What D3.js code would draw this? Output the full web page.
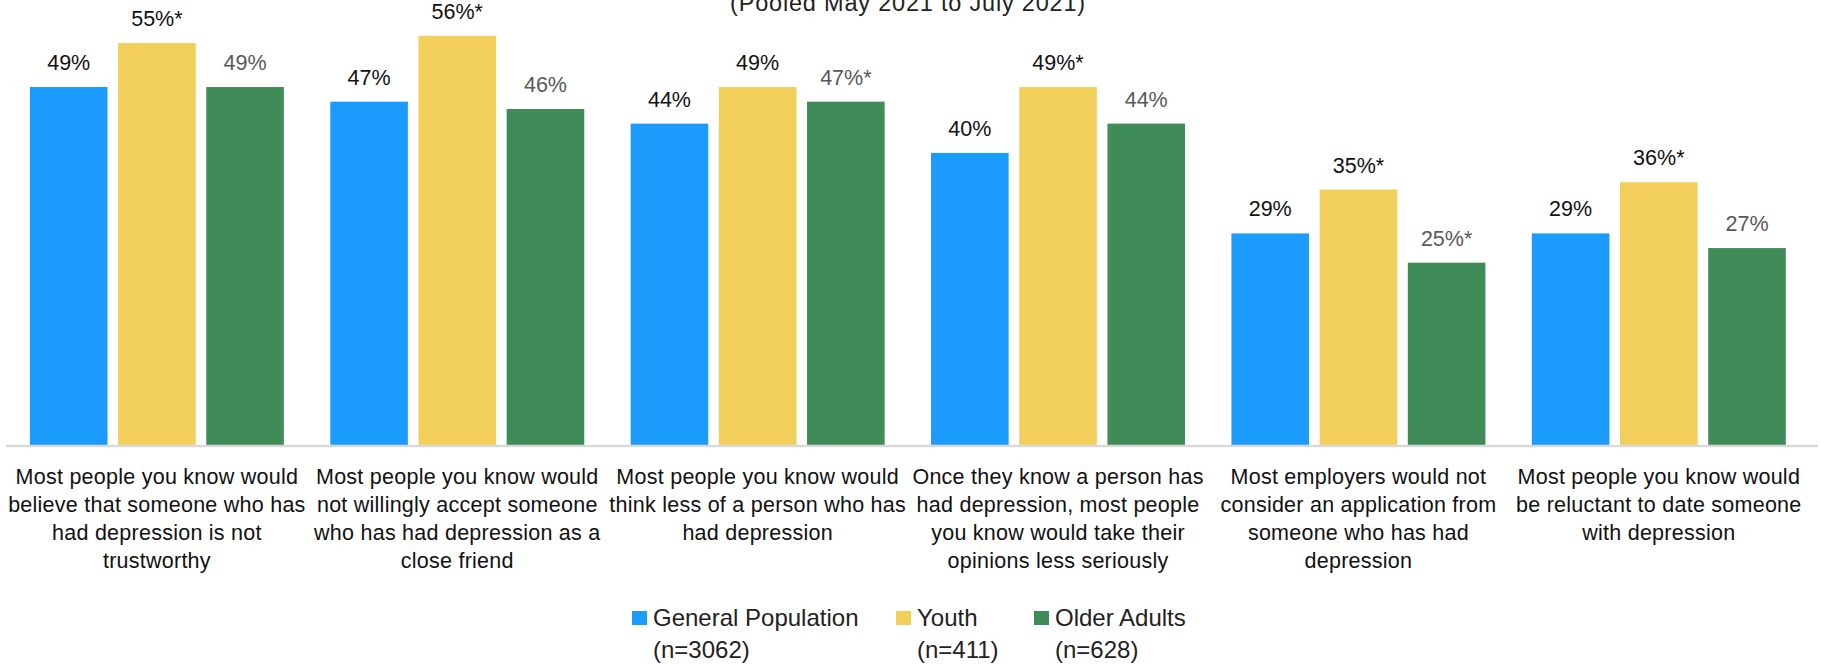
<!DOCTYPE html>
<html>
<head>
<meta charset="utf-8">
<script src="https://cdn.jsdelivr.net/npm/d3@7"></script>
<style>
  html, body { margin: 0; padding: 0; background: #ffffff; }
  svg { display: block; }
  text { font-family: "Liberation Sans", Arial, sans-serif; }
</style>
</head>
<body>
<svg id="chart" width="1821" height="664"></svg>
<script>
// Survey items (each label is pre-broken into lines)
const categories = [
  ["Most people you know would", "believe that someone who has", "had depression is not", "trustworthy"],
  ["Most people you know would", "not willingly accept someone", "who has had depression as a", "close friend"],
  ["Most people you know would", "think less of a person who has", "had depression"],
  ["Once they know a person has", "had depression, most people", "you know would take their", "opinions less seriously"],
  ["Most employers would not", "consider an application from", "someone who has had", "depression"],
  ["Most people you know would", "be reluctant to date someone", "with depression"]
];

const seriesNames = ["General Population", "Youth", "Older Adults"];
const seriesSamples = ["(n=3062)", "(n=411)", "(n=628)"];
const seriesColors = ["#1b9cfc", "#f2cf5b", "#408c58"];
const labelColors = ["#111111", "#111111", "#595959"];

// Percent agreeing, per group
const generalValues = [49, 47, 44, 40, 29, 29];
const youthValues   = [55, 56, 49, 49, 35, 36];
const olderValues   = [49, 46, 47, 44, 25, 27];

// Significant difference from the general population
const youthSig = [true, true, false, true, true, true];
const olderSig = [false, false, true, false, true, false];
const generalSig = [false, false, false, false, false, false];

const subtitle = "(Pooled May 2021 to July 2021)";

const seriesValues = [generalValues, youthValues, olderValues];
const seriesSig = [generalSig, youthSig, olderSig];

const svg = d3.select("#chart");

const x0 = d3.scaleBand()
  .domain(d3.range(categories.length))
  .range([6.7, 1809])
  .padding(0);

const x1 = d3.scaleBand()
  .domain(d3.range(seriesNames.length))
  .range([0, x0.bandwidth()])
  .paddingInner(0.12)
  .paddingOuter(0.263);

const y = d3.scaleLinear().domain([0, 60]).range([445.7, 6.5]);

// Subtitle (partly above the visible area)
svg.append("text")
  .attr("x", 908)
  .attr("y", 11)
  .attr("text-anchor", "middle")
  .attr("font-size", 23.5)
  .attr("letter-spacing", 0.8)
  .attr("fill", "#222")
  .text(subtitle);

// Bars
const groups = svg.append("g").selectAll("g")
  .data(categories.map((c, i) => i))
  .join("g")
  .attr("transform", i => `translate(${x0(i)},0)`);

groups.selectAll("rect")
  .data(i => seriesValues.map((vals, s) => ({ s, v: vals[i], sig: seriesSig[s][i] })))
  .join("rect")
  .attr("x", d => x1(d.s))
  .attr("width", x1.bandwidth())
  .attr("y", d => y(d.v))
  .attr("height", d => y(0) - y(d.v))
  .attr("fill", d => seriesColors[d.s]);

// Value labels
groups.selectAll("text.val")
  .data(i => seriesValues.map((vals, s) => ({ s, v: vals[i], sig: seriesSig[s][i] })))
  .join("text")
  .attr("class", "val")
  .attr("x", d => x1(d.s) + x1.bandwidth() / 2)
  .attr("y", d => y(d.v) - 17)
  .attr("text-anchor", "middle")
  .attr("font-size", 21.5)
  .attr("fill", d => labelColors[d.s])
  .text(d => d.v + "%" + (d.sig ? "*" : ""));

// Baseline
svg.append("line")
  .attr("x1", 6).attr("x2", 1818)
  .attr("y1", 446).attr("y2", 446)
  .attr("stroke", "#d9d9d9")
  .attr("stroke-width", 2.5);

// Category labels
const catLabels = svg.append("g").selectAll("text")
  .data(categories)
  .join("text")
  .attr("text-anchor", "middle")
  .attr("font-size", 21.5)
  .attr("letter-spacing", 0.25)
  .attr("fill", "#111111");

catLabels.each(function(lines, i) {
  const cx = x0(i) + x0.bandwidth() / 2;
  d3.select(this).selectAll("tspan")
    .data(lines)
    .join("tspan")
    .attr("x", cx)
    .attr("y", (d, k) => 484 + k * 28)
    .text(d => d);
});

// Legend
const legendX = [632, 896, 1034];
const legend = svg.append("g").selectAll("g")
  .data(seriesNames.map((n, i) => i))
  .join("g")
  .attr("transform", i => `translate(${legendX[i]},0)`);

legend.append("rect")
  .attr("x", 0).attr("y", 611)
  .attr("width", 15).attr("height", 14)
  .attr("fill", i => seriesColors[i]);

legend.append("text")
  .attr("x", 21).attr("y", 626)
  .attr("font-size", 24)
  .attr("fill", "#222")
  .text(i => seriesNames[i]);

legend.append("text")
  .attr("x", 21).attr("y", 658)
  .attr("font-size", 24)
  .attr("fill", "#222")
  .text(i => seriesSamples[i]);
</script>
</body>
</html>
